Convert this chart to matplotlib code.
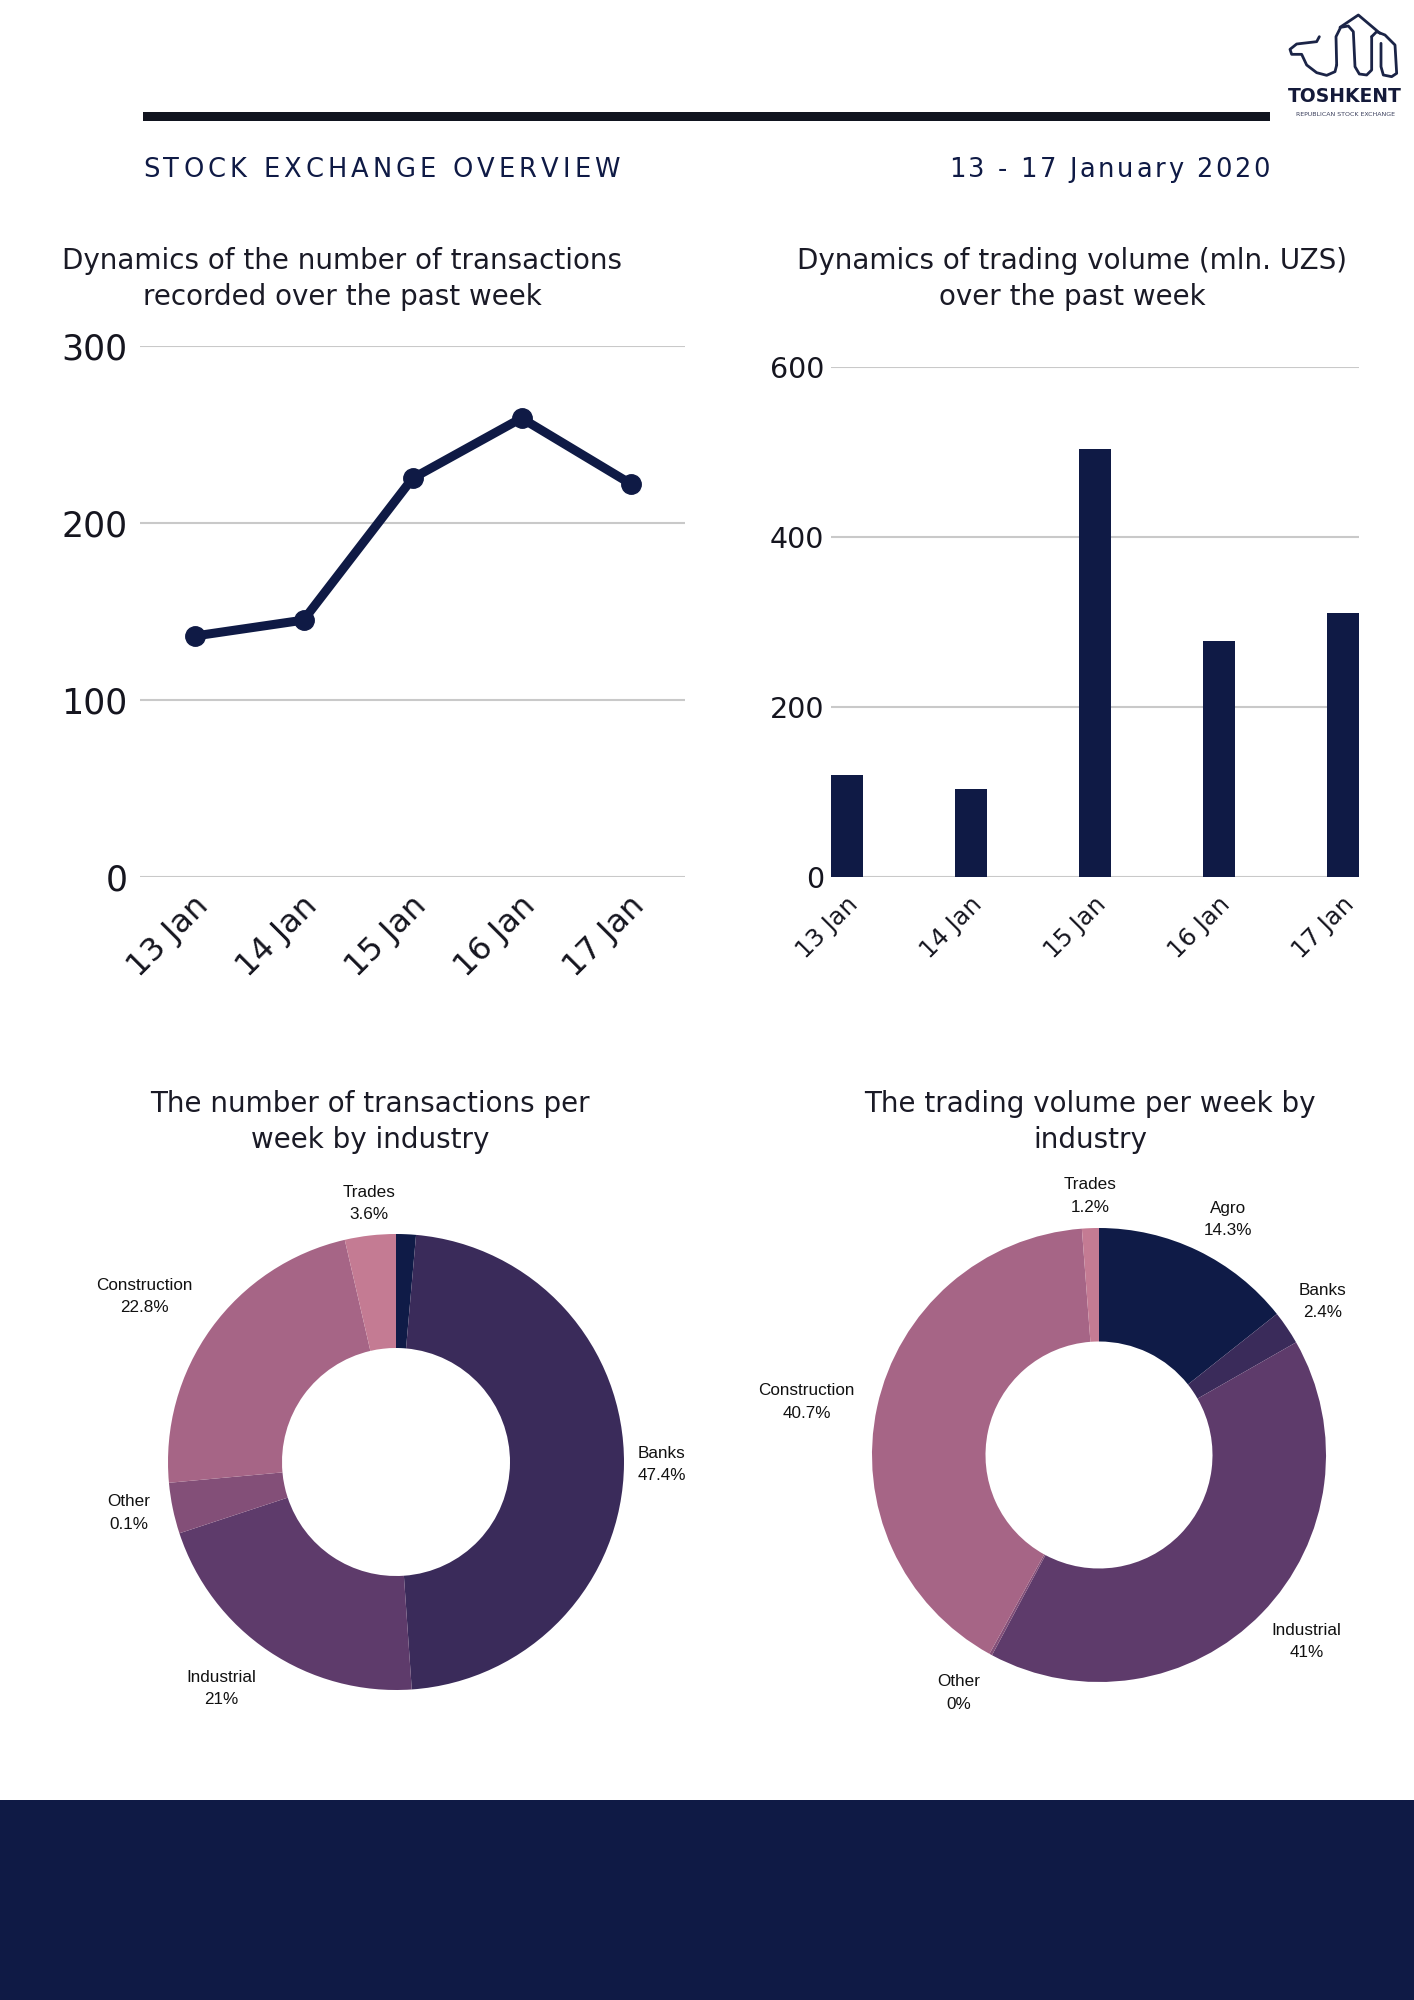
"""Weekly stock exchange overview poster: transactions, volume and industry split."""

import numpy as np
import matplotlib

matplotlib.use("Agg")
import matplotlib.pyplot as plt
from matplotlib.transforms import ScaledTranslation

W, H = 1414, 2000

NAVY = "#0f1a45"
INK = "#15151f"
GRID = "#c9c9c9"

days = ["13 Jan", "14 Jan", "15 Jan", "16 Jan", "17 Jan"]
transactions = [136, 145, 225, 259, 222]
volume_mln = [120, 104, 503, 278, 311]

# industry split by number of transactions (slice sizes as drawn, label text as printed)
tx_names = ["Agro", "Banks", "Industrial", "Other", "Construction", "Trades"]
tx_shares = [1.4, 47.4, 21.0, 3.6, 22.8, 3.6]
tx_labels = ["", "47.4%", "21%", "0.1%", "22.8%", "3.6%"]

# industry split by trading volume
vol_names = ["Agro", "Banks", "Industrial", "Other", "Construction", "Trades"]
vol_shares = [14.3, 2.4, 41.0, 0.2, 40.7, 1.2]
vol_labels = ["14.3%", "2.4%", "41%", "0%", "40.7%", "1.2%"]

slice_colors = ["#0f1b47", "#3a2b5a", "#5e3b6b", "#834f78", "#a66586", "#c47b93"]

TITLE_FONT = "DejaVu Sans"
LABEL_FONT = "Liberation Sans"


def box(left, top, right, bottom):
    """Pixel box (top-left origin) to figure fraction rect."""
    return [left / W, 1 - bottom / H, (right - left) / W, (bottom - top) / H]


def fx(x):
    return x / W


def fy(y):
    return 1 - y / H


def spaced_text(fig, x0, x1, y, s, **kw):
    """Write s letter by letter so that it spans pixels x0..x1."""
    renderer = fig.canvas.get_renderer()
    parts = [fig.text(0, fy(y), ch, va="center", ha="left", **kw) for ch in s]
    widths = [p.get_window_extent(renderer).width for p in parts]
    gap = (x1 - x0 - sum(widths)) / (len(s) - 1)
    x = x0
    for p, w in zip(parts, widths):
        p.set_x(fx(x))
        x += w + gap


def style_axis(ax):
    for side in ["top", "right", "left", "bottom"]:
        ax.spines[side].set_visible(False)
    ax.grid(axis="y", color=GRID, linewidth=1.5)
    ax.set_axisbelow(True)
    ax.tick_params(length=0)


def nudge_xlabels(fig, ax, dx_px, dy_px):
    shift = ScaledTranslation(dx_px / 100, dy_px / 100, fig.dpi_scale_trans)
    for lab in ax.get_xticklabels():
        lab.set_transform(lab.get_transform() + shift)


def draw_donut(ax, shares, names, labels):
    wedges, _ = ax.pie(
        shares,
        colors=slice_colors,
        startangle=90,
        counterclock=False,
        wedgeprops=dict(width=0.5, edgecolor="none", linewidth=0),
    )
    ax.set_xlim(-1, 1)
    ax.set_ylim(-1, 1)
    for wedge, name, label in zip(wedges, names, labels):
        if not label:
            continue
        phi = np.deg2rad((wedge.theta1 + wedge.theta2) / 2)
        x, y = np.cos(phi), np.sin(phi)
        ha = "left" if x > 0.25 else ("right" if x < -0.25 else "center")
        va = "bottom" if y > 0.25 else ("top" if y < -0.25 else "center")
        dist = 1.1 if x < -0.25 else 1.06
        ax.text(dist * x, dist * y, f"{name}\n{label}", ha=ha, va=va,
                multialignment="center", linespacing=1.6, fontsize=12.3,
                family=LABEL_FONT, color="#111111", clip_on=False)


fig = plt.figure(figsize=(W / 100, H / 100), dpi=100)
fig.patch.set_facecolor("white")

# header rule and footer band
deco = fig.add_axes([0, 0, 1, 1], zorder=-5)
deco.set_xlim(0, W)
deco.set_ylim(H, 0)
deco.axis("off")
deco.add_patch(plt.Rectangle((143, 112), 1127, 9, color="#11141f", lw=0))
deco.add_patch(plt.Rectangle((0, 1800), W, 200, color=NAVY, lw=0))

# rough logo outline
logo_paths = [
    [(148, 110), (140, 125), (80, 132), (60, 148), (65, 163), (95, 163), (110, 195),
     (140, 218), (170, 226), (195, 215), (200, 195)],
    [(200, 195), (198, 110), (212, 82), (235, 78), (250, 95), (255, 200), (268, 222),
     (290, 225), (305, 210), (305, 110)],
    [(210, 82), (265, 45), (330, 100)],
    [(305, 110), (320, 95), (345, 105), (375, 135), (380, 220), (365, 230), (340, 225),
     (333, 200), (333, 130)],
]
for path in logo_paths:
    px = [1270 + p[0] / 3 for p in path]
    py = [p[1] / 3 for p in path]
    deco.plot(px, py, color="#1b2447", lw=2.0, solid_capstyle="round", solid_joinstyle="round")
fig.text(fx(1345), fy(96), "TOSHKENT", ha="center", va="center", fontsize=13.5,
         fontweight="bold", family=TITLE_FONT, color="#141a3a")
fig.text(fx(1345), fy(114), "REPUBLICAN STOCK EXCHANGE", ha="center", va="center",
         fontsize=4.5, family=TITLE_FONT, color="#3a3f5c")

spaced_text(fig, 143, 620, 170, "STOCK EXCHANGE OVERVIEW", fontsize=18.5,
            family=TITLE_FONT, color=NAVY)
spaced_text(fig, 949, 1270, 170, "13 - 17 January 2020", fontsize=18.5,
            family=TITLE_FONT, color=NAVY)

title_kw = dict(ha="center", va="center", fontsize=20, family=TITLE_FONT,
                color="#1a1a26", linespacing=1.35)

# line chart: number of transactions
fig.text(fx(342), fy(279), "Dynamics of the number of transactions\nrecorded over the past week",
         **title_kw)
ax1 = fig.add_axes(box(140, 345.5, 685, 877))
style_axis(ax1)
x = np.arange(len(days))
ax1.plot(x, transactions, color=NAVY, lw=6.5, marker="o", markersize=14, clip_on=False)
ax1.set_xlim(-0.5, len(days) - 0.5)
ax1.set_ylim(0, 300)
ax1.set_yticks([0, 100, 200, 300])
ax1.set_xticks(x)
ax1.set_xticklabels(days, rotation=45, ha="right", va="center", rotation_mode="anchor")
ax1.tick_params(axis="y", labelsize=25, labelcolor=INK, pad=9)
ax1.tick_params(axis="x", labelsize=23, labelcolor=INK, pad=16)
for lab in ax1.get_yticklabels() + ax1.get_xticklabels():
    lab.set_family(TITLE_FONT)
nudge_xlabels(fig, ax1, 9, -2)

# bar chart: trading volume
fig.text(fx(1072), fy(279), "Dynamics of trading volume (mln. UZS)\nover the past week", **title_kw)
ax2 = fig.add_axes(box(831, 367, 1359, 877))
style_axis(ax2)
bar_w = 0.257
ax2.bar(x, volume_mln, width=bar_w, color=NAVY, zorder=3)
ax2.set_xlim(-bar_w / 2, len(days) - 1 + bar_w / 2)
ax2.set_ylim(0, 600)
ax2.set_yticks([0, 200, 400, 600])
ax2.set_xticks(x)
ax2.set_xticklabels(days, rotation=45, ha="right", va="center", rotation_mode="anchor")
ax2.tick_params(axis="y", labelsize=20.5, labelcolor=INK, pad=5)
ax2.tick_params(axis="x", labelsize=17.5, labelcolor=INK, pad=12)
for lab in ax2.get_yticklabels() + ax2.get_xticklabels():
    lab.set_family(TITLE_FONT)
nudge_xlabels(fig, ax2, 7, -7)

# donuts
fig.text(fx(370), fy(1122), "The number of transactions per\nweek by industry", **title_kw)
ax3 = fig.add_axes(box(396 - 228, 1462 - 228, 396 + 228, 1462 + 228))
draw_donut(ax3, tx_shares, tx_names, tx_labels)

fig.text(fx(1090), fy(1122), "The trading volume per week by\nindustry", **title_kw)
ax4 = fig.add_axes(box(1099 - 227, 1455 - 227, 1099 + 227, 1455 + 227))
draw_donut(ax4, vol_shares, vol_names, vol_labels)

fig.savefig("out.png", dpi=100, facecolor="white")
plt.close(fig)
